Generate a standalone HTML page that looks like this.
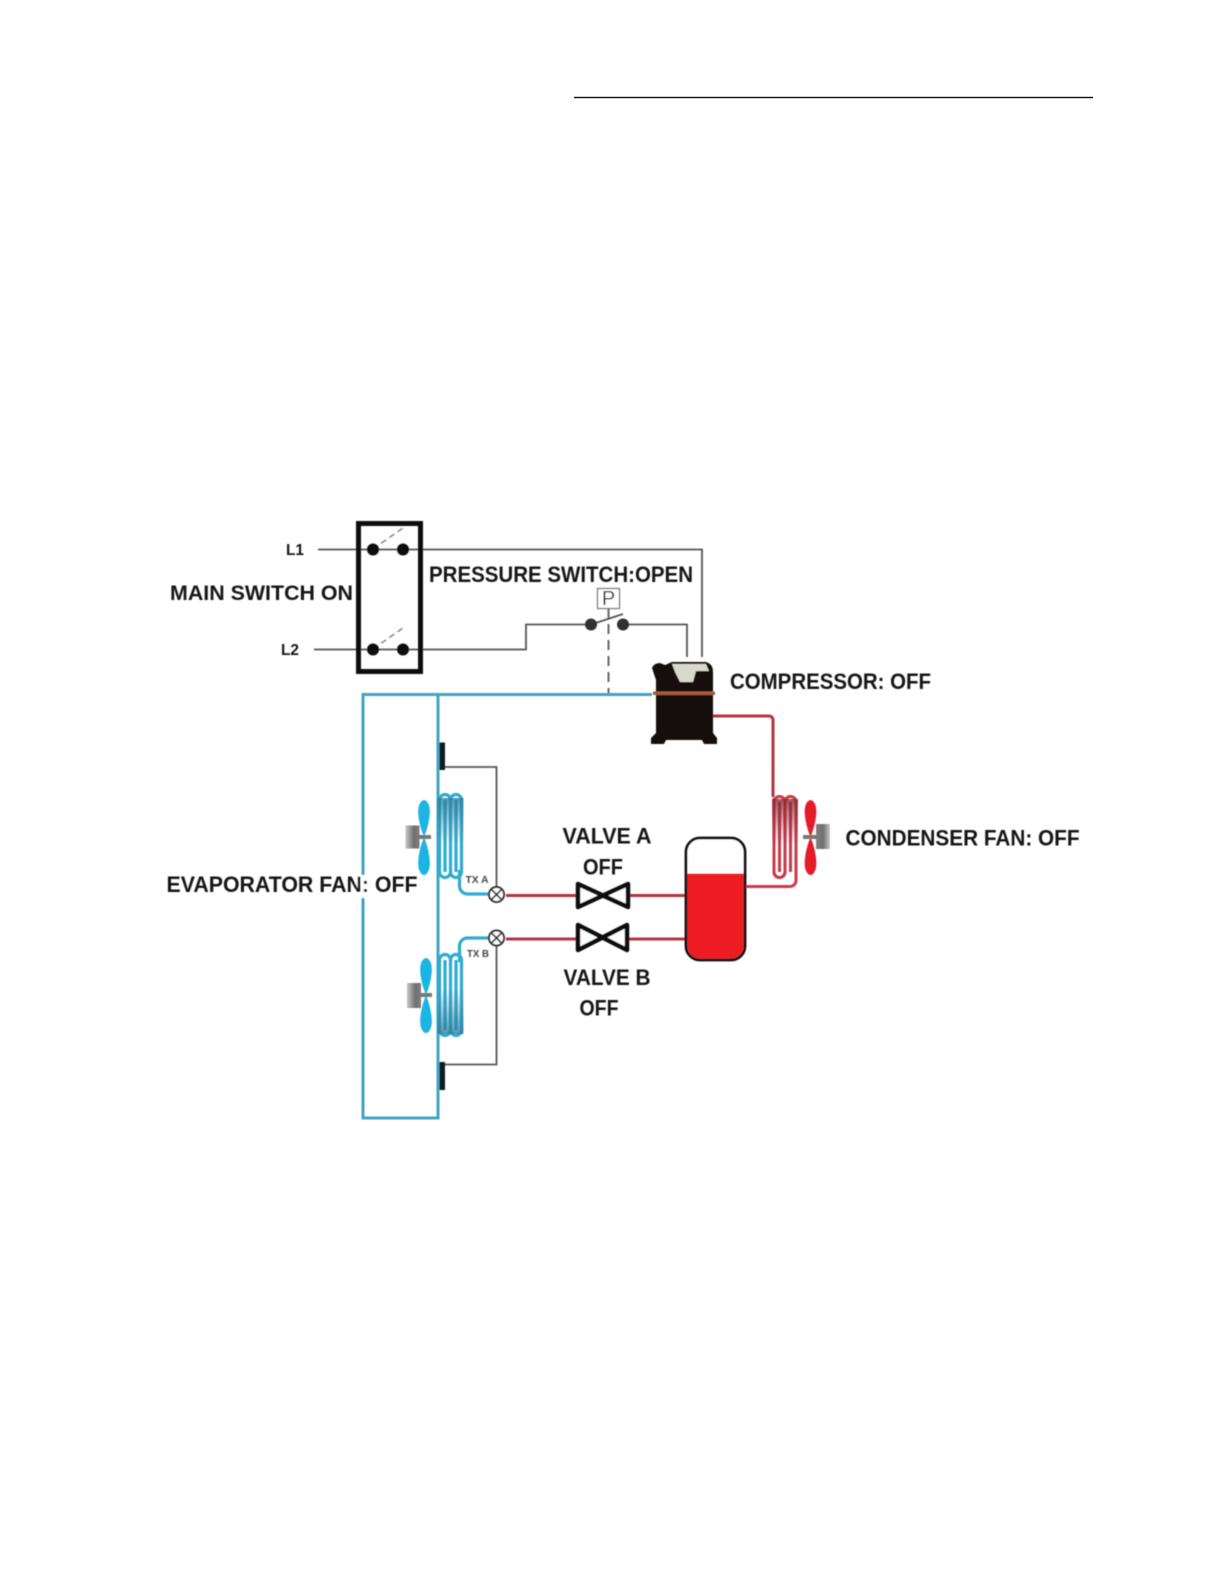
<!DOCTYPE html>
<html><head><meta charset="utf-8"><style>
html,body{margin:0;padding:0;background:#fff}
svg{display:block}
text{font-family:"Liberation Sans",sans-serif;font-weight:bold;fill:#151515}
</style></head><body>
<svg width="1224" height="1584" viewBox="0 0 1224 1584" xmlns="http://www.w3.org/2000/svg">
<defs>
<filter id="b" x="-5%" y="-5%" width="110%" height="110%"><feGaussianBlur stdDeviation="0.5"/></filter>
<linearGradient id="m1" x1="0" y1="0" x2="1" y2="0"><stop offset="0" stop-color="#c8c8c8"/><stop offset=".6" stop-color="#6f6f6f"/><stop offset="1" stop-color="#808080"/></linearGradient>
<linearGradient id="m2" x1="0" y1="0" x2="1" y2="0"><stop offset="0" stop-color="#808080"/><stop offset=".5" stop-color="#6f6f6f"/><stop offset="1" stop-color="#c8c8c8"/></linearGradient>
<linearGradient id="bd" x1="0" y1="0" x2="0" y2="1"><stop offset="0" stop-color="#2a7d9c" stop-opacity=".8"/><stop offset="1" stop-color="#2a7d9c" stop-opacity="0"/></linearGradient>
<linearGradient id="bu" x1="0" y1="1" x2="0" y2="0"><stop offset="0" stop-color="#2a7d9c" stop-opacity=".8"/><stop offset="1" stop-color="#2a7d9c" stop-opacity="0"/></linearGradient>
<linearGradient id="rd" x1="0" y1="0" x2="0" y2="1"><stop offset="0" stop-color="#8d2430" stop-opacity=".8"/><stop offset="1" stop-color="#8d2430" stop-opacity="0"/></linearGradient>
<path id="bl" d="M0 0C-5 -12 -6 -22 -5.800 -27C-5.500 -34 -2 -37 0 -37C2 -37 5.500 -34 5.800 -27C6 -22 5 -12 0 0Z"/>
</defs>
<rect x="574" y="96.800" width="519" height="1.400" fill="#111"/>
<g filter="url(#b)">
<!-- wires -->
<g fill="none" stroke="#555" stroke-width="1.800">
<path d="M318 549.500H702V657"/>
<path d="M314 649.500H526V624.500H591"/>
<path d="M623 624.500H687V657"/>
<path d="M591 624.500L623 614"/>
<path d="M445 767H496.500V888"/>
<path d="M496.500 946V1064.500H445"/>
</g>
<path d="M608.500 608V694" fill="none" stroke="#666" stroke-width="2" stroke-dasharray="10 6"/>
<g fill="none" stroke="#888" stroke-width="1.500" stroke-dasharray="6 4">
<path d="M373 549L403 528"/><path d="M373 649L403 628"/>
</g>
<!-- switch box -->
<rect x="358.500" y="523.500" width="62" height="148" fill="none" stroke="#111" stroke-width="5"/>
<g fill="#111">
<circle cx="373" cy="549.500" r="6"/><circle cx="403" cy="549.500" r="6"/>
<circle cx="373" cy="649.500" r="6"/><circle cx="403" cy="649.500" r="6"/>
</g>
<circle cx="591" cy="624.500" r="6" fill="#333"/><circle cx="623" cy="624.500" r="6" fill="#333"/>
<rect x="597.500" y="588.500" width="22" height="20" fill="#fff" stroke="#777" stroke-width="1.300"/>
<text x="608.500" y="605" text-anchor="middle" style="font-weight:normal;font-size:20px;fill:#333">P</text>
<!-- blue suction -->
<path d="M652 694.500H363V1118H438V694.500" fill="none" stroke="#3fa5c0" stroke-width="3"/>
<!-- evaporator A -->
<g fill="none" stroke="#2fabd0" stroke-width="3.200">
<path d="M439.500 800V872a5.500 5.500 0 0 0 11 0V800a5.500 5.500 0 0 0 -5.500 -5.500a5.500 5.500 0 0 0 -5.500 5.500"/>
<path d="M445 800V872"/>
<path d="M450.500 800a5.500 5.500 0 0 1 11 0V872"/>
<path d="M450.500 872a5.500 5.500 0 0 0 11 0"/>
<path d="M456 800V872"/>
<path d="M459.500 870V886a8 8 0 0 0 8 8H489"/>
</g>
<rect x="437.500" y="798" width="26" height="46" fill="url(#bd)"/>
<!-- evaporator B -->
<g fill="none" stroke="#2fabd0" stroke-width="3.200">
<path d="M439.500 960V1030a5.500 5.500 0 0 0 11 0V960a5.500 5.500 0 0 0 -11 0"/>
<path d="M445 960V1030"/>
<path d="M450.500 960a5.500 5.500 0 0 1 11 0V1030a5.500 5.500 0 0 1 -11 0"/>
<path d="M456 960V1030"/>
<path d="M459.500 962V946a8 8 0 0 1 8 -8H489"/>
</g>
<rect x="437.500" y="988" width="26" height="46" fill="url(#bu)"/>
<!-- fans -->
<g fill="#1fb4e4">
<use href="#bl" transform="translate(424,837)"/><use href="#bl" transform="translate(424,837) scale(1,-1.030)"/>
<use href="#bl" transform="translate(426,995)"/><use href="#bl" transform="translate(426,995) scale(1,-1.030)"/>
</g>
<rect x="405.500" y="825.500" width="14" height="23" fill="url(#m1)"/><rect x="418" y="835" width="13" height="4" fill="#777"/>
<rect x="407" y="983" width="14" height="25" fill="url(#m1)"/><rect x="419" y="993" width="13" height="4" fill="#777"/>
<!-- sensors -->
<rect x="439.500" y="742.500" width="5.500" height="27.500" fill="#0f1a20"/>
<rect x="439.500" y="1062" width="5.500" height="28" fill="#0f1a20"/>
<!-- TXV -->
<g fill="#fff" stroke="#333" stroke-width="2">
<circle cx="496.500" cy="894.500" r="7.500"/><circle cx="496.500" cy="938" r="7.500"/>
</g>
<path d="M491.200 889.200L501.800 899.800M501.800 889.200L491.200 899.800M491.200 932.700L501.800 943.300M501.800 932.700L491.200 943.300" stroke="#333" stroke-width="1.800"/>
<text x="465.500" y="883" textLength="23" lengthAdjust="spacingAndGlyphs" style="font-size:10.500px;fill:#444">TX A</text>
<text x="467" y="957" textLength="22" lengthAdjust="spacingAndGlyphs" style="font-size:10.500px;fill:#444">TX B</text>
<!-- red lines -->
<g fill="none" stroke="#b8333f" stroke-width="3">
<path d="M506 895.500H576"/><path d="M630 895.500H685"/>
<path d="M506 939H576"/><path d="M629 939H685"/>
<path d="M712 716H769a4 4 0 0 1 4 4V797"/>
</g>
<!-- valves -->
<g fill="#fff" stroke="#111" stroke-width="4.500" stroke-linejoin="round">
<path d="M578 884L628 907V884L578 907Z"/>
<path d="M578 925L627 950V925L578 950Z"/>
</g>
<!-- receiver -->
<rect x="686" y="838" width="59" height="122" rx="14" fill="#fff" stroke="#111" stroke-width="2.800"/>
<path d="M687.400 873.500H743.600V946a12.600 12.600 0 0 1 -12.600 12.600H700a12.600 12.600 0 0 1 -12.600 -12.600Z" fill="#ed1c24"/>
<!-- condenser -->
<g fill="none" stroke="#c93a4a" stroke-width="3">
<path d="M746 886.500H790a6 6 0 0 0 6 -6V802a5.500 5.500 0 0 0 -11 0V872a5.500 5.500 0 0 1 -11 0V798"/>
<path d="M774 872a5.500 5.500 0 0 0 11 0V802a5.500 5.500 0 0 0 -11 0"/>
<path d="M779.500 802V872"/><path d="M790.500 802V872"/>
</g>
<rect x="772" y="799" width="26" height="46" fill="url(#rd)"/>
<g fill="#e41f2c">
<use href="#bl" transform="translate(810.500,837)"/><use href="#bl" transform="translate(810.500,837) scale(1,-1.030)"/>
</g>
<rect x="816" y="824" width="14" height="25" fill="url(#m2)"/><rect x="803" y="835" width="14" height="4" fill="#777"/>
<!-- compressor -->
<path d="M652 668q2-5 8-5l5 2l7-3H706q7 2 7 10V733l4 5v6H704l-2-4H666l-2 4H651v-6l5-5V680Z" fill="#141010"/>
<path d="M672 664H706l3 7H696l-3 11H680l-5-10Z" fill="#d8d8cc"/>
<rect x="653" y="691.500" width="62" height="3.500" fill="#a85a3c"/>
<!-- labels -->
<rect x="355" y="875" width="14" height="23" fill="#fff"/>
<text x="170" y="600" textLength="183" lengthAdjust="spacingAndGlyphs" style="font-size:21px">MAIN SWITCH ON</text>
<text x="286" y="555" textLength="18" lengthAdjust="spacingAndGlyphs" style="font-size:16px">L1</text>
<text x="281" y="655" textLength="18" lengthAdjust="spacingAndGlyphs" style="font-size:16px">L2</text>
<text x="429" y="582" textLength="264" lengthAdjust="spacingAndGlyphs" style="font-size:22px">PRESSURE SWITCH:OPEN</text>
<text x="730" y="689" textLength="201" lengthAdjust="spacingAndGlyphs" style="font-size:22px">COMPRESSOR: OFF</text>
<text x="845.500" y="845.500" textLength="234" lengthAdjust="spacingAndGlyphs" style="font-size:22px">CONDENSER FAN: OFF</text>
<text x="166.500" y="892" textLength="251" lengthAdjust="spacingAndGlyphs" style="font-size:22px">EVAPORATOR FAN: OFF</text>
<text x="562.500" y="843.500" textLength="89" lengthAdjust="spacingAndGlyphs" style="font-size:22px">VALVE A</text>
<text x="583" y="874.500" textLength="40" lengthAdjust="spacingAndGlyphs" style="font-size:22px">OFF</text>
<text x="563.500" y="985" textLength="87" lengthAdjust="spacingAndGlyphs" style="font-size:22px">VALVE B</text>
<text x="579.500" y="1015.500" textLength="39" lengthAdjust="spacingAndGlyphs" style="font-size:22px">OFF</text>
</g>
</svg>
</body></html>
